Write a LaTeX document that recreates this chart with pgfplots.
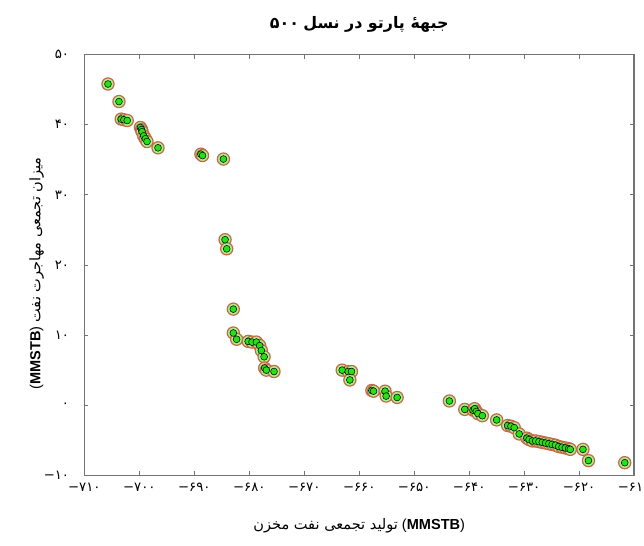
\documentclass[border=0pt]{standalone}
\usepackage{fontspec}
\usepackage{pgfplots}
\pgfplotsset{compat=1.18}
\TeXXeTstate=1
\setmainfont{Liberation Sans}
\newfontfamily\fa[Script=Arabic]{DejaVu Sans}
\newfontfamily\dig{DejaVu Sans}
\definecolor{ring}{RGB}{196,104,72}
\definecolor{lgreen}{RGB}{170,240,140}
\definecolor{dgreen}{RGB}{40,225,20}
\pgfplotstableread{
x y
-705.7 45.8
-703.7 43.3
-703.3 40.8
-702.8 40.7
-702.2 40.6
-699.8 39.6
-699.6 39.3
-699.5 39.0
-699.2 38.4
-698.9 38.0
-698.6 37.6
-696.6 36.7
-688.8 35.8
-688.5 35.6
-684.7 35.1
-684.4 23.6
-684.1 22.3
-682.9 13.7
-682.9 10.3
-682.3 9.4
-680.2 9.1
-679.5 9.0
-678.7 9.0
-678.1 8.5
-677.8 7.8
-677.3 6.9
-677.2 5.3
-676.9 5.0
-675.5 4.8
-663.1 5.0
-662.0 4.8
-661.4 4.8
-661.7 3.6
-657.7 2.1
-657.4 2.0
-655.3 2.0
-655.1 1.3
-653.1 1.1
-643.6 0.6
-640.8 -0.6
-639.3 -0.7
-639.0 -0.5
-638.7 -0.9
-638.4 -1.2
-637.6 -1.5
-635.0 -2.1
-633.0 -2.9
-632.4 -3.0
-631.8 -3.2
-630.9 -4.1
-629.5 -4.7
-629.1 -4.9
-628.5 -5.1
-627.9 -5.1
-627.3 -5.2
-626.7 -5.3
-626.1 -5.4
-625.5 -5.5
-624.9 -5.6
-624.3 -5.7
-623.7 -5.9
-623.1 -6.0
-622.5 -6.1
-621.9 -6.2
-621.6 -6.3
-619.3 -6.3
-618.3 -7.9
-611.7 -8.2
}\pareto
\begin{document}
\begin{tikzpicture}
\begin{axis}[
  scale only axis, width=415.5pt, height=318pt,
  xmin=-710, xmax=-610, ymin=-10, ymax=50,
  xtick={-710,-700,...,-610}, ytick={-10,0,...,50},
  xticklabels={−۷۱۰,−۷۰۰,−۶۹۰,−۶۸۰,−۶۷۰,−۶۶۰,−۶۵۰,−۶۴۰,−۶۳۰,−۶۲۰,−۶۱۰},
  yticklabels={−۱۰,۰,۱۰,۲۰,۳۰,۴۰,۵۰},
  tick align=inside, major tick length=3pt,
  axis line style={black!55, line width=1.1pt},
  every tick/.style={black!55, line width=0.6pt},
  xticklabel style={font=\dig\fontsize{10}{12}\selectfont, yshift=-2pt},
  yticklabel style={font=\dig\fontsize{10}{12}\selectfont, xshift=-8pt},
  title={\bfseries\beginR{\fa جبههٔ پارتو در نسل} \beginL{\dig ۵۰۰}\endL\endR},
  every axis title/.style={at={(axis description cs:0.5,1)}, anchor=center, yshift=23pt, font=\fontsize{12}{14}\selectfont},
  xlabel={\beginR{\fa تولید تجمعی نفت مخزن}\endR\ (\textbf{MMSTB})},
  every axis x label/.style={at={([yshift=-38pt]axis description cs:0.5,0)}, anchor=center, font=\fontsize{11}{13}\selectfont},
  ylabel={(\textbf{MMSTB}) \beginR{\fa میزان تجمعی مهاجرت نفت}\endR},
  every axis y label/.style={at={([xshift=-36pt]axis description cs:0,0.48)}, anchor=center, rotate=90, font=\fontsize{11}{13}\selectfont},
]
\addplot[only marks, mark=*, mark size=4.6pt, mark options={draw=ring, fill=lgreen, line width=0.9pt}] table {\pareto};
\addplot[only marks, mark=*, mark size=2.6pt, mark options={draw=none, fill=dgreen}] table {\pareto};
\end{axis}
\pgfresetboundingbox
\path[use as bounding box] (-63.75pt,-53.25pt) rectangle (423pt,359.25pt);
\end{tikzpicture}
\end{document}
